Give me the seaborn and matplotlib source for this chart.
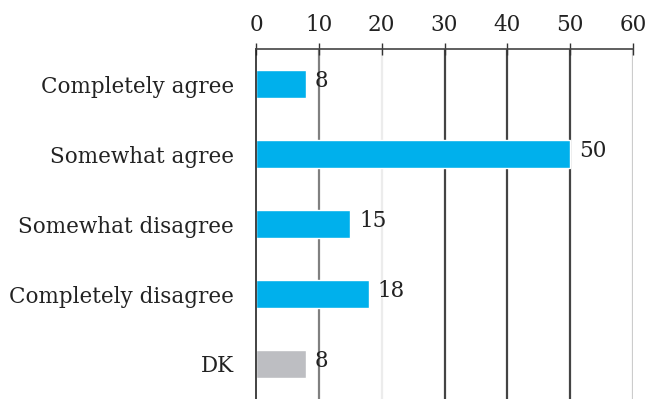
import matplotlib
matplotlib.use("Agg")
import matplotlib.pyplot as plt
import seaborn as sns
import pandas as pd
import numpy as np

categories = ["Completely agree", "Somewhat agree", "Somewhat disagree",
              "Completely disagree", "DK"]
values = [8, 50, 15, 18, 8]
bar_colors = ["#00b0ec", "#00b0ec", "#00b0ec", "#00b0ec", "#bdbec2"]
x_ticks = [0, 10, 20, 30, 40, 50, 60]
grid_colors = {10: "#808080", 20: "#ececec", 30: "#444444",
               40: "#444444", 50: "#444444", 60: "#cccccc"}

sns.set_style("white")
plt.rcParams["font.family"] = ["DejaVu Serif"]

df = pd.DataFrame({"category": categories, "value": values})

fig = plt.figure(figsize=(6.52, 3.99), dpi=100)
ax = fig.add_axes([256 / 652, 0.0, (633 - 256) / 652, (399 - 49) / 399])

for x, c in grid_colors.items():
    ax.axvline(x, color=c, lw=1.6, zorder=0)

sns.barplot(data=df, y="category", x="value", hue="category",
            palette=bar_colors, width=0.41, legend=False, ax=ax,
            saturation=1, zorder=2)

ax.set_xlim(0, 60)
ax.set_ylim(4.5, -0.5)
ax.set_xticks(x_ticks)
ax.xaxis.tick_top()
ax.tick_params(axis="x", direction="inout", length=9, width=1,
               color="#333333", labelsize=15.5, pad=5, labelcolor="#222222")
ax.tick_params(axis="y", length=0, labelsize=15.5, pad=16, labelcolor="#222222")
ax.set_yticks(np.arange(0.5, 4.5, 1), minor=True)
ax.tick_params(axis="y", which="minor", length=5, width=1, color="#333333",
               direction="out")
ax.set_xlabel("")
ax.set_ylabel("")

for spine in ["right", "bottom"]:
    ax.spines[spine].set_visible(False)
ax.spines["top"].set_color("#444444")
ax.spines["top"].set_linewidth(1.2)
ax.spines["left"].set_color("#222222")
ax.spines["left"].set_linewidth(1.2)

for i, v in enumerate(values):
    ax.text(v + 1.4, i - 0.04, f"{v}", va="center", ha="left", fontsize=15.5,
            color="#222222")

fig.savefig("out.png", dpi=100)
